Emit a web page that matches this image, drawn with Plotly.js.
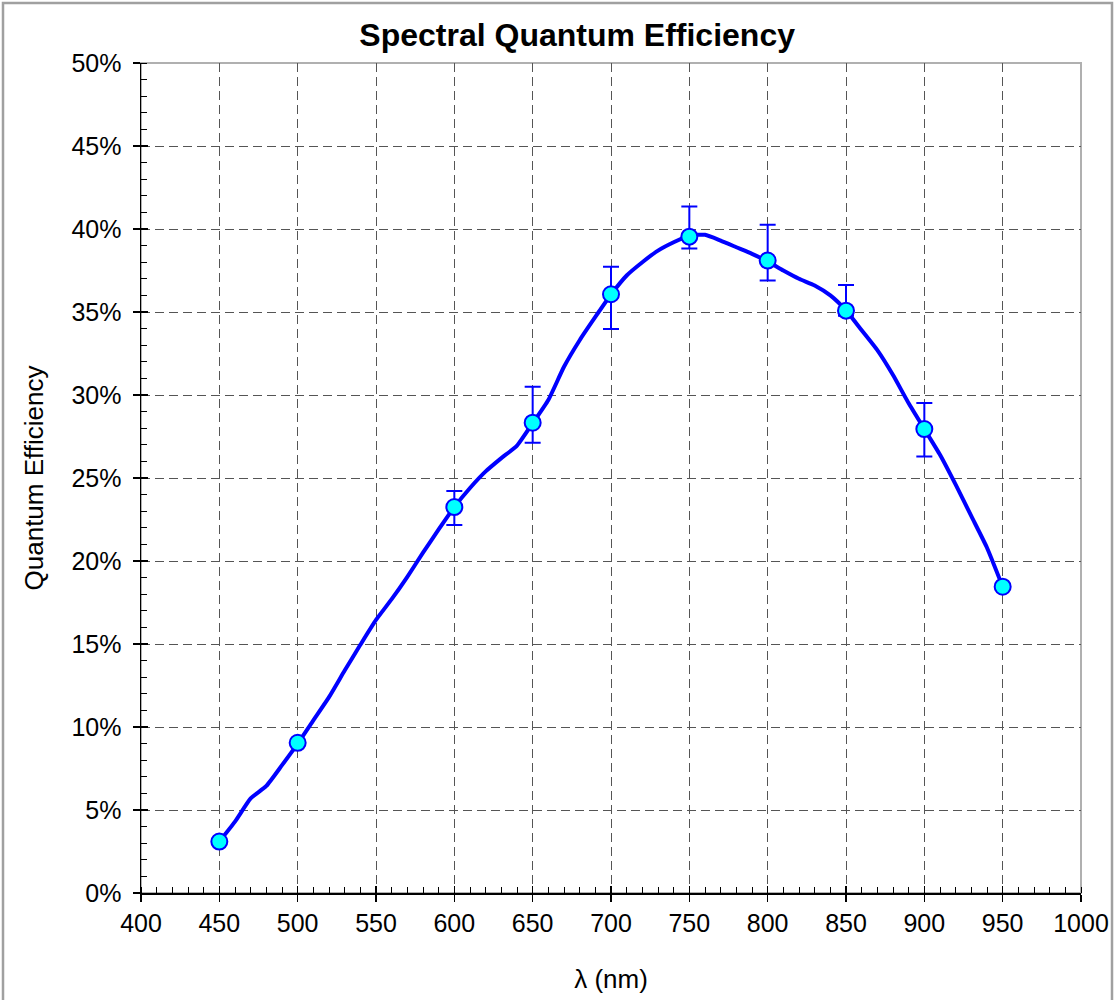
<!DOCTYPE html>
<html>
<head>
<meta charset="utf-8">
<script src="https://cdn.plot.ly/plotly-3.0.1.min.js"></script>
<style>html,body{margin:0;padding:0;background:#fff;}#chart{width:1116px;height:1000px;}</style>
</head>
<body>
<div id="chart"></div>
<script>
// Measured points (wavelength nm, QE %)
const wavelength = [450, 500, 600, 650, 700, 750, 800, 850, 900, 950];
const qe = [3.1, 9.05, 23.25, 28.33, 36.07, 39.54, 38.1, 35.08, 27.95, 18.45];
const errPlus  = [null, null, 0.97, 2.17, 1.65, 1.81, 2.15, 1.55, 1.57, null];
const errMinus = [null, null, 1.08, 1.21, 2.09, 0.72, 1.2, 0.3, 1.65, null];

// Fitted curve
const curveX = [450,460,470,480,490,500,510,520,530,540,550,560,570,580,590,600,610,620,630,640,650,660,670,680,690,700,710,720,730,740,750,760,770,780,790,800,810,820,830,840,850,860,870,880,890,900,910,920,930,940,950];
const curveY = [3.1,4.3,5.7,6.45,7.7,9.0,10.4,11.8,13.4,14.95,16.45,17.7,19.05,20.5,21.9,23.25,24.4,25.4,26.2,26.95,28.3,29.7,31.7,33.3,34.7,36.05,37.2,38.0,38.7,39.2,39.6,39.65,39.3,38.9,38.5,38.05,37.5,37.0,36.6,36.0,35.1,33.9,32.7,31.2,29.5,27.95,26.4,24.6,22.7,20.8,18.45];

const chartTitle = "Spectral Quantum Efficiency";
const xTitle = "λ (nm)";
const yTitle = "Quantum Efficiency";

const FONT = "Liberation Sans, Arial, sans-serif";
const gridDash = "9px,5px";

const traces = [
  {
    x: curveX, y: curveY, type: 'scatter', mode: 'lines',
    line: {color: '#0000FF', width: 4, shape: 'spline', smoothing: 0.5}, hoverinfo: 'skip'
  },
  {
    x: wavelength, y: qe, type: 'scatter', mode: 'markers',
    marker: {color: '#00FFFF', size: 16, line: {color: '#0000FF', width: 2}},
    error_y: {type: 'data', symmetric: false, array: errPlus, arrayminus: errMinus,
              color: '#0000FF', thickness: 2, width: 8}
  },
  { x: [], y: [], xaxis: 'x2', yaxis: 'y2', type: 'scatter', mode: 'markers', hoverinfo: 'skip' }
];

const layout = {
  width: 1116, height: 1000,
  margin: {l: 141, r: 35, t: 63, b: 107},
  paper_bgcolor: '#ffffff', plot_bgcolor: '#ffffff',
  showlegend: false,
  font: {family: FONT, color: '#000', size: 25},
  title: {text: '<b>' + chartTitle + '</b>', font: {family: FONT, size: 32, color: '#000'},
          x: 0.464, xref: 'paper', xanchor: 'center', y: 0.965, yref: 'container', yanchor: 'middle'},
  xaxis: {
    range: [400, 1000], dtick: 50, tick0: 400,
    showgrid: true, gridcolor: '#555555', gridwidth: 1, griddash: gridDash,
    showline: true, linecolor: '#000', linewidth: 1.5,
    ticks: 'outside', ticklen: 7, tickwidth: 1.5, tickcolor: '#000',
    minor: {dtick: 10, ticks: 'inside', ticklen: 6, tickwidth: 1, tickcolor: '#000', showgrid: false},
    tickfont: {size: 25, family: FONT},
    zeroline: false,
    title: {text: xTitle, font: {size: 26, family: FONT}, standoff: 34}
  },
  yaxis: {
    range: [0, 50], dtick: 5, tick0: 0, ticksuffix: '%',
    showgrid: true, gridcolor: '#555555', gridwidth: 1, griddash: gridDash,
    showline: true, linecolor: '#000', linewidth: 1.5,
    ticks: 'outside', ticklen: 7, tickwidth: 1.5, tickcolor: '#000',
    minor: {dtick: 1, ticks: 'inside', ticklen: 6, tickwidth: 1, tickcolor: '#000', showgrid: false},
    tickfont: {size: 25, family: FONT},
    ticklabelstandoff: 6,
    zeroline: false,
    title: {text: yTitle, font: {size: 26, family: FONT}, standoff: 20}
  },
  xaxis2: {overlaying: 'x', range: [400, 1000], dtick: 50, tick0: 400, showgrid: false, zeroline: false,
           showticklabels: false, ticks: 'inside', ticklen: 7, tickwidth: 1.5, tickcolor: '#000', showline: false, side: 'bottom'},
  yaxis2: {overlaying: 'y', range: [0, 50], dtick: 5, tick0: 0, showgrid: false, zeroline: false,
           showticklabels: false, ticks: 'inside', ticklen: 7, tickwidth: 1.5, tickcolor: '#000', showline: false, side: 'left'},
  shapes: [
    {type: 'rect', xref: 'paper', yref: 'paper', x0: 0, x1: 1, y0: 0, y1: 1,
     line: {color: '#B0B0B0', width: 2}, layer: 'below'},
    {type: 'rect', xref: 'paper', yref: 'paper',
     x0: (3 - 141) / 940, x1: (1112 - 141) / 940, y0: (893 - 1004) / 830, y1: (893 - 3) / 830,
     line: {color: '#A0A0A0', width: 2.5}, layer: 'below'}
  ]
};

Plotly.newPlot('chart', traces, layout, {displayModeBar: false, staticPlot: true});
</script>
</body>
</html>
